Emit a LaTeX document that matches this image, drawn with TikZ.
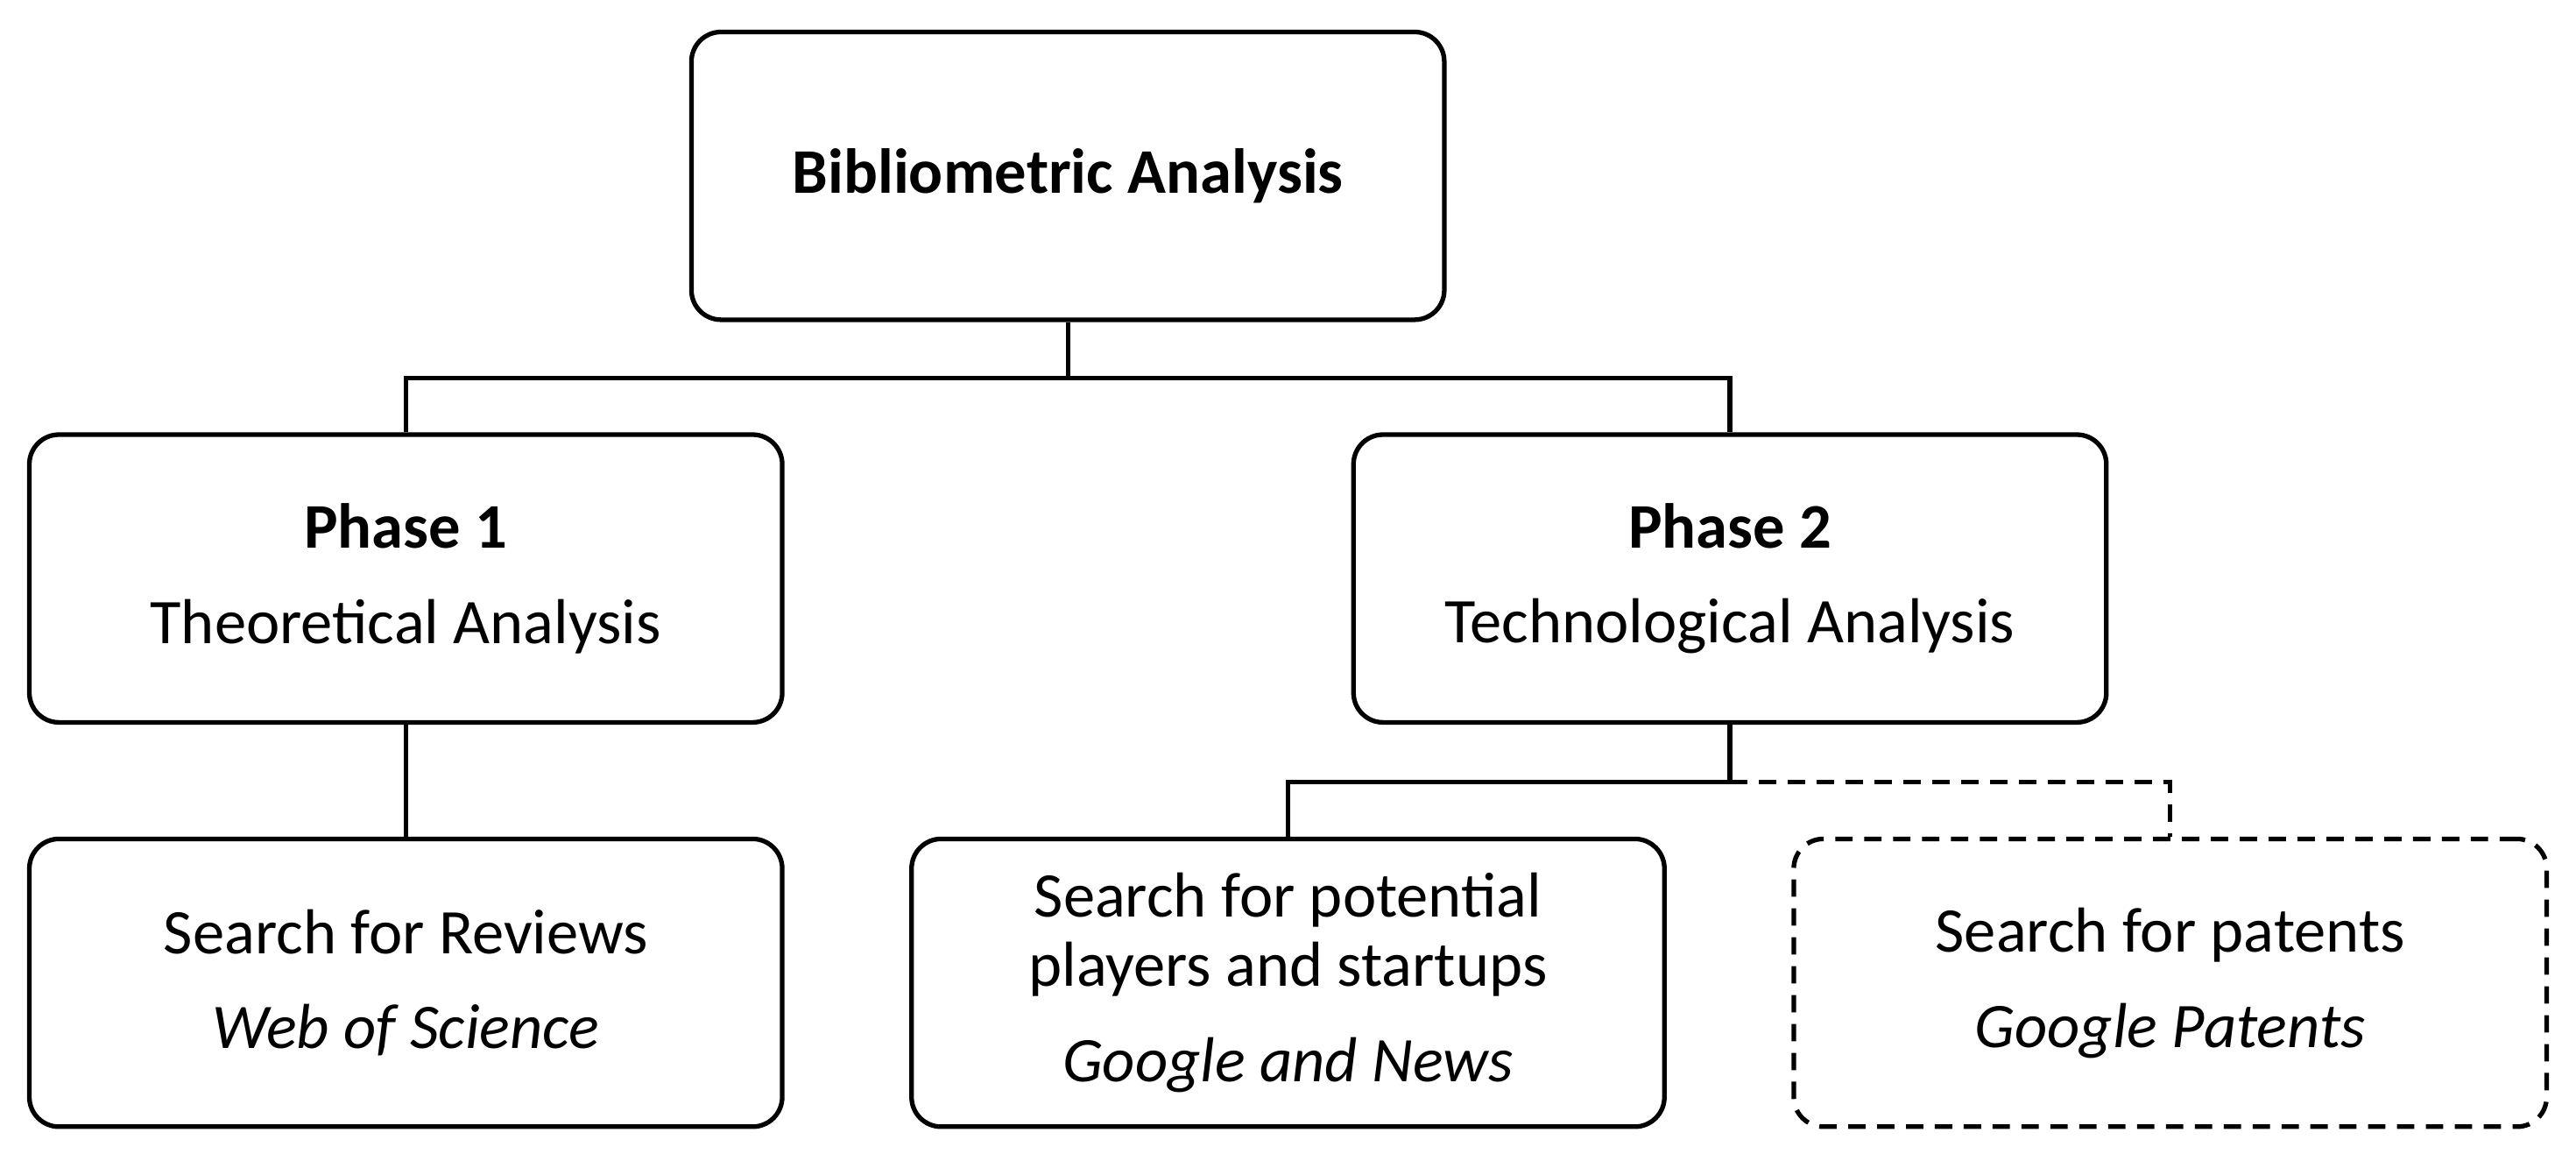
\documentclass[tikz,border=0pt]{standalone}
\usepackage{fontspec}
\setmainfont{Carlito}
\begin{document}
\begin{tikzpicture}[x=0.01cm,y=-0.01cm,
  box/.style={draw,line width=0.8pt,rounded corners=0.18cm,minimum width=4.58cm,minimum height=1.75cm,align=center,font=\fontsize{11}{12}\selectfont},
  ln/.style={line width=0.8pt},
  dsh/.style={line width=0.8pt,dash pattern=on 3pt off 2pt}]
\useasboundingbox (0,0) rectangle (1568,706);
\node[box] (top) at (650,107) {\textbf{Bibliometric Analysis}};
\node[box] (p1) at (247,352) {\textbf{Phase 1}\\[4.5pt]Theoretical Analysis};
\node[box] (p2) at (1053,352) {\textbf{Phase 2}\\[4.5pt]Technological Analysis};
\node[box] (b1) at (247,598) {Search for Reviews\\[4.5pt]\textit{Web of Science}};
\node[box] (b2) at (784,598) {Search for potential\\players and startups\\[4.5pt]\textit{Google and News}};
\node[box,dsh,rounded corners=0.18cm] (b3) at (1321,598) {Search for patents\\[4.5pt]\textit{Google Patents}};
\coordinate (j1) at (650,230);
\coordinate (j2) at (1053,476);
\draw[ln] (top.south) -- (j1);
\draw[ln] (p1.north) |- (j1) -| (p2.north);
\draw[ln] (p1.south) -- (b1.north);
\draw[ln] (p2.south) -- (j2) -| (b2.north);
\draw[dsh] (j2) -| (b3.north);
\end{tikzpicture}
\end{document}
